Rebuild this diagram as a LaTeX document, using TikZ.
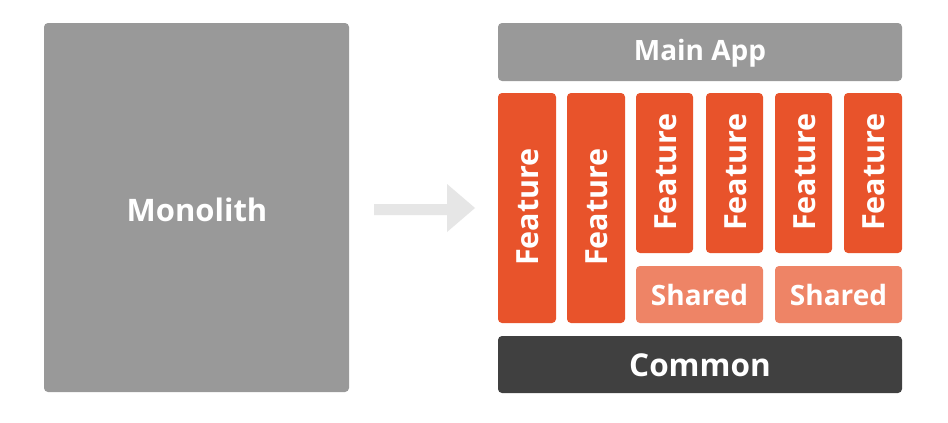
\documentclass[tikz,border=0pt]{standalone}
\usepackage{fontspec}
\setmainfont{Open Sans}
\begin{document}
\begin{tikzpicture}[x=1pt,y=-1pt,
  blk/.style={rounded corners=4pt,draw=none},
  lbl/.style={text=white,font=\fontsize{28}{32}\selectfont\bfseries,inner sep=0pt},
  featlbl/.style={lbl,rotate=90,font=\fontsize{30.5}{34}\selectfont\bfseries},
  feat/.style={blk,fill=featorange},
  ]
\definecolor{featorange}{HTML}{E8532B}
\definecolor{sharedorange}{HTML}{EE8466}
\definecolor{monogray}{HTML}{999999}
\definecolor{commondark}{HTML}{404040}
\definecolor{arrowgray}{HTML}{E6E6E6}
\useasboundingbox[fill=white] (0,0) rectangle (948,423);
% Monolith
\fill[blk,fill=monogray] (44,23) rectangle (349,392);
\node[lbl,font=\fontsize{31}{34}\selectfont\bfseries] (mono) at (197,210) {Monolith};
% arrow
\fill[arrowgray] (374,204) -- (447,204) -- (447,184) -- (475,208) -- (447,232) -- (447,215) -- (374,215) -- cycle;
% Main App
\fill[blk,fill=monogray] (498,23) rectangle (902,81);
\node[lbl] (main) at (700,53) {Main App};
% tall features
\fill[feat] (498,93) rectangle (556,323);
\node[featlbl] (f1) at (528,207) {Feature};
\fill[feat] (567,93) rectangle (625,323);
\node[featlbl] (f2) at (597,207) {Feature};
% short features
\fill[feat] (636,93) rectangle (693,253);
\node[featlbl] (f3) at (665.5,172) {Feature};
\fill[feat] (706,93) rectangle (763,253);
\node[featlbl] (f4) at (735.5,172) {Feature};
\fill[feat] (775,93) rectangle (832,253);
\node[featlbl] (f5) at (804.5,172) {Feature};
\fill[feat] (844,93) rectangle (902,253);
\node[featlbl] (f6) at (874,172) {Feature};
% shared
\fill[blk,fill=sharedorange] (636,266) rectangle (763,323);
\node[lbl] (s1) at (699.5,295) {Shared};
\fill[blk,fill=sharedorange] (775,266) rectangle (902,323);
\node[lbl] (s2) at (838.5,295) {Shared};
% common
\fill[blk,fill=commondark] (498,336) rectangle (902,393);
\node[lbl,font=\fontsize{31.5}{35}\selectfont\bfseries] (common) at (700,365) {Common};
\end{tikzpicture}
\end{document}
